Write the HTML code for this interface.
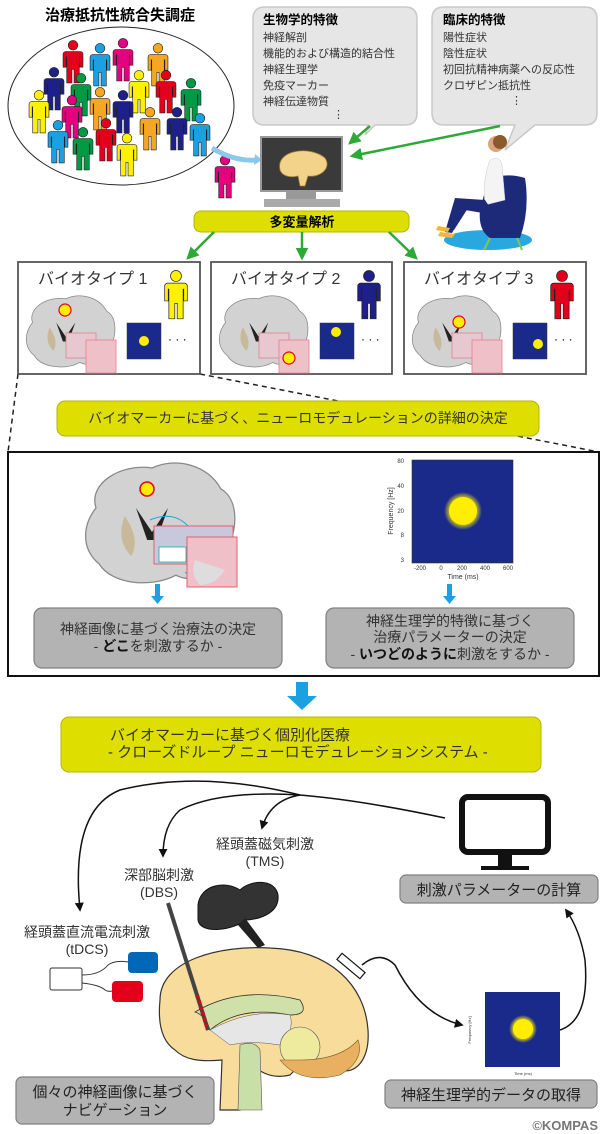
<!DOCTYPE html>
<html><head><meta charset="utf-8"><style>
html,body{margin:0;padding:0;background:#fff}
svg{display:block}
text{font-family:"Liberation Sans","Noto Sans CJK JP",sans-serif}
</style></head><body>
<svg width="601" height="1134" viewBox="0 0 601 1134" xmlns="http://www.w3.org/2000/svg">
<defs>
<symbol id="p" viewBox="0 0 20 42">
<circle cx="10" cy="5" r="4.6" stroke="#222" stroke-width="0.6"/>
<path d="M3 11h14a2.5 2.5 0 0 1 2.5 2.5V26h-3V16h-.5v25h-5V28h-2v13h-5V16H3.5v10h-3V13.5A2.5 2.5 0 0 1 3 11z" stroke="#222" stroke-width="0.6"/>
</symbol>
<marker id="ag" viewBox="0 0 10 10" refX="8" refY="5" markerWidth="5" markerHeight="5" orient="auto"><path d="M0 0L10 5L0 10z" fill="#2ea836"/></marker>
<marker id="ak" viewBox="0 0 10 10" refX="8" refY="5" markerWidth="6" markerHeight="6" orient="auto"><path d="M0 0L10 5L0 10z" fill="#111"/></marker>
<radialGradient id="yb"><stop offset="0.6" stop-color="#ffee00"/><stop offset="1" stop-color="#1a2a8a"/></radialGradient>
<g id="cor">
<path d="M10 30 C5 15 25 2 45 5 C60 -2 80 3 88 18 C100 25 98 45 92 55 C90 70 70 78 60 72 C45 80 20 78 12 65 C0 55 2 40 10 30z" fill="#d2d2d2" stroke="#888" stroke-width="0.8"/>
<path d="M35 30 L45 45 L55 30 L48 50 L42 50z" fill="#222"/>
<path d="M28 35 q-6 15 4 25 q6-10 -4-25z" fill="#c8b99a"/>
</g>
<g id="hm">
<rect width="34" height="36" fill="#1a2a8a" stroke="#333" stroke-width="0.5"/>
</g>
</defs>

<text x="120" y="20" font-size="15" font-weight="bold" text-anchor="middle">治療抵抗性統合失調症</text>
<ellipse cx="121" cy="106" rx="113" ry="79" fill="#fff" stroke="#222" stroke-width="1"/>
<g>
<use href="#p" x="62" y="40" width="22" height="44" fill="#e3001b"/>
<use href="#p" x="89" y="43" width="22" height="44" fill="#1ba1e2"/>
<use href="#p" x="112" y="38" width="22" height="44" fill="#e4007f"/>
<use href="#p" x="147" y="43" width="22" height="44" fill="#f5a623"/>
<use href="#p" x="43" y="67" width="22" height="44" fill="#1d2088"/>
<use href="#p" x="70" y="73" width="22" height="44" fill="#009944"/>
<use href="#p" x="128" y="70" width="22" height="44" fill="#fff100"/>
<use href="#p" x="155" y="70" width="22" height="44" fill="#e3001b"/>
<use href="#p" x="180" y="78" width="22" height="44" fill="#009944"/>
<use href="#p" x="28" y="90" width="22" height="44" fill="#fff100"/>
<use href="#p" x="61" y="95" width="22" height="44" fill="#e4007f"/>
<use href="#p" x="89" y="87" width="22" height="44" fill="#f5a623"/>
<use href="#p" x="112" y="90" width="22" height="44" fill="#1d2088"/>
<use href="#p" x="139" y="107" width="22" height="44" fill="#f5a623"/>
<use href="#p" x="166" y="107" width="22" height="44" fill="#1d2088"/>
<use href="#p" x="189" y="113" width="22" height="44" fill="#1ba1e2"/>
<use href="#p" x="47" y="120" width="22" height="44" fill="#1ba1e2"/>
<use href="#p" x="72" y="127" width="22" height="44" fill="#009944"/>
<use href="#p" x="95" y="118" width="22" height="44" fill="#e3001b"/>
<use href="#p" x="116" y="133" width="22" height="44" fill="#fff100"/>
</g>
<use href="#p" x="214" y="155" width="22" height="44" fill="#e4007f"/>
<path d="M212 148 Q235 162 258 160" stroke="#8cc8ec" stroke-width="5" fill="none"/>
<path d="M255 154 L262 160 L254 165z" fill="#8cc8ec"/>

<path d="M265 7 H405 Q417 7 417 19 V113 Q417 125 405 125 H375 L365 135 L368 125 H265 Q253 125 253 113 V19 Q253 7 265 7z" fill="#e6e6e6" stroke="#c8c8c8" stroke-width="1.5"/>
<text x="263" y="24" font-size="12.5" font-weight="bold">生物学的特徴</text>
<g font-size="11" fill="#333"><text x="263" y="41">神経解剖</text><text x="263" y="57">機能的および構造的結合性</text><text x="263" y="73">神経生理学</text><text x="263" y="89">免疫マーカー</text><text x="263" y="105">神経伝達物質</text><text x="333" y="118">⋮</text></g>
<path d="M444 7 H585 Q597 7 597 19 V113 Q597 125 585 125 H535 L505 150 L515 125 H444 Q432 125 432 113 V19 Q432 7 444 7z" fill="#e6e6e6" stroke="#c8c8c8" stroke-width="1.5"/>
<text x="443" y="24" font-size="12.5" font-weight="bold">臨床的特徴</text>
<g font-size="11" fill="#333"><text x="443" y="41">陽性症状</text><text x="443" y="57">陰性症状</text><text x="443" y="73">初回抗精神病薬への反応性</text><text x="443" y="89">クロザピン抵抗性</text><text x="511" y="104">⋮</text></g>

<rect x="261" y="137" width="81" height="54" fill="#3a3a3a" stroke="#999" stroke-width="2"/>
<path d="M280 170 C275 150 310 145 325 158 C332 168 320 178 308 176 L305 186 L300 186 L298 176 C290 178 282 176 280 170z" fill="#f3d38a" stroke="#a07b3a" stroke-width="0.8"/>
<rect x="286" y="191" width="30" height="8" fill="#999"/>
<rect x="264" y="199" width="76" height="8" fill="#aaa"/>
<line x1="370" y1="126" x2="350" y2="143" stroke="#2ea836" stroke-width="2.5" marker-end="url(#ag)"/>
<line x1="500" y1="126" x2="352" y2="156" stroke="#2ea836" stroke-width="2.5" marker-end="url(#ag)"/>

<ellipse cx="488" cy="240" rx="44" ry="10" fill="#29a8e0"/>
<path d="M488 180 Q505 172 525 178 Q530 210 520 238 H490 Q478 230 480 210z" fill="#1d2a7a"/>
<line x1="490" y1="238" x2="484" y2="250" stroke="#8bc34a" stroke-width="2"/>
<line x1="517" y1="238" x2="522" y2="250" stroke="#8bc34a" stroke-width="2"/>
<path d="M490 160 Q500 155 502 165 L505 200 L485 205 Q482 180 490 160z" fill="#f4f4f4" stroke="#ccc" stroke-width="0.5"/>
<path d="M485 200 L455 198 L445 232 L452 233 L465 210 L495 215z" fill="#1d2a7a"/>
<path d="M460 200 L448 228 L454 230 L470 205z" fill="#1d2a7a"/>
<circle cx="496" cy="144" r="8" fill="#d9a77a"/>
<circle cx="500" cy="142" r="7" fill="#8b5a2b"/>
<path d="M440 232 L455 234 L452 238 L438 236z" fill="#f2b632"/>
<path d="M438 226 L450 228 L448 232 L436 230z" fill="#f2b632"/>

<rect x="194" y="211" width="215" height="21" rx="7" fill="#dedf00" stroke="#b4b400" stroke-width="1"/>
<text x="302" y="226.5" font-size="13" font-weight="bold" text-anchor="middle">多変量解析</text>
<line x1="214" y1="232" x2="188" y2="258" stroke="#2ea836" stroke-width="2.5" marker-end="url(#ag)"/>
<line x1="302" y1="232" x2="302" y2="258" stroke="#2ea836" stroke-width="2.5" marker-end="url(#ag)"/>
<line x1="389" y1="232" x2="416" y2="258" stroke="#2ea836" stroke-width="2.5" marker-end="url(#ag)"/>

<path d="M18 374 L8 452" stroke="#222" stroke-width="1.5" stroke-dasharray="5 4" fill="none"/>
<path d="M200 374 L599 452" stroke="#222" stroke-width="1.5" stroke-dasharray="5 4" fill="none"/>

<g>
<rect x="18" y="262" width="182" height="112" fill="#fff" stroke="#555" stroke-width="1.8"/>
<text x="38" y="284" font-size="16" fill="#333">バイオタイプ 1</text>
<use href="#p" x="164" y="270" width="24" height="50" fill="#fff100"/>
<use href="#cor" transform="translate(23,294) scale(0.95)"/>
<circle cx="65" cy="310" r="6" fill="#ffee00" stroke="#e3001b" stroke-width="1.2"/>
<rect x="66" y="333" width="30" height="25" fill="#e8c8d0" stroke="#e08090" stroke-width="0.8"/>
<rect x="86" y="340" width="30" height="33" fill="#f0c0c8" stroke="#e08090" stroke-width="0.8"/>
<use href="#hm" x="127" y="323"/>
<circle cx="144" cy="341" r="5" fill="#ffee00"/>
<text x="168" y="343" font-size="12">· · ·</text>
</g>
<g>
<rect x="211" y="262" width="181" height="112" fill="#fff" stroke="#555" stroke-width="1.8"/>
<text x="231" y="284" font-size="16" fill="#333">バイオタイプ 2</text>
<use href="#p" x="357" y="270" width="24" height="50" fill="#1d2088"/>
<use href="#cor" transform="translate(216,294) scale(0.95)"/>
<rect x="259" y="333" width="30" height="25" fill="#e8c8d0" stroke="#e08090" stroke-width="0.8"/>
<rect x="279" y="340" width="30" height="33" fill="#f0c0c8" stroke="#e08090" stroke-width="0.8"/>
<circle cx="289" cy="358" r="6" fill="#ffee00" stroke="#e3001b" stroke-width="1.2"/>
<use href="#hm" x="320" y="323"/>
<circle cx="336" cy="332" r="5" fill="#ffee00"/>
<text x="361" y="343" font-size="12">· · ·</text>
</g>
<g>
<rect x="404" y="262" width="182" height="112" fill="#fff" stroke="#555" stroke-width="1.8"/>
<text x="424" y="284" font-size="16" fill="#333">バイオタイプ 3</text>
<use href="#p" x="550" y="270" width="24" height="50" fill="#e3001b"/>
<use href="#cor" transform="translate(409,294) scale(0.95)"/>
<circle cx="459" cy="322" r="6" fill="#ffee00" stroke="#e3001b" stroke-width="1.2"/>
<rect x="452" y="333" width="30" height="25" fill="#e8c8d0" stroke="#e08090" stroke-width="0.8"/>
<rect x="472" y="340" width="30" height="33" fill="#f0c0c8" stroke="#e08090" stroke-width="0.8"/>
<use href="#hm" x="513" y="323"/>
<circle cx="538" cy="344" r="5" fill="#ffee00"/>
<text x="554" y="343" font-size="12">· · ·</text>
</g>

<rect x="57" y="401" width="482" height="35" rx="8" fill="#dedf00" stroke="#b4b400" stroke-width="1"/>
<text x="298" y="423" font-size="14" text-anchor="middle" fill="#333">バイオマーカーに基づく、ニューロモデュレーションの詳細の決定</text>

<rect x="8" y="452" width="591" height="224" fill="#fff" stroke="#111" stroke-width="2"/>
<use href="#cor" transform="translate(80,460) scale(1.6)"/>
<circle cx="147" cy="489" r="7" fill="#ffee00" stroke="#e3001b" stroke-width="1.5"/>
<path d="M150 520 Q185 505 202 550 Q200 570 185 573" stroke="#1ba1e2" stroke-width="1" fill="none"/>
<rect x="154" y="526" width="79" height="38" fill="#c8c8dc" stroke="#e06070" stroke-width="1"/>
<rect x="187" y="537" width="50" height="50" fill="#f0c0c8" stroke="#e06070" stroke-width="1"/>
<path d="M195 560 Q190 575 200 585 Q215 585 225 570" fill="#ddd"/>
<rect x="159" y="547" width="27" height="15" fill="#fff" stroke="#1aa" stroke-width="0.8"/>
<rect x="412" y="460" width="101" height="103" fill="#1a2a8a" stroke="#333" stroke-width="0.6"/>
<circle cx="463" cy="511" r="19" fill="url(#yb)"/>
<circle cx="463" cy="511" r="14" fill="#ffee00"/>
<g font-size="6" fill="#333" text-anchor="end"><text x="404" y="463">80</text><text x="404" y="488">40</text><text x="404" y="513">20</text><text x="404" y="537">8</text><text x="404" y="562">3</text></g>
<g font-size="6" fill="#333" text-anchor="middle"><text x="420" y="570">-200</text><text x="441" y="570">0</text><text x="462" y="570">200</text><text x="485" y="570">400</text><text x="508" y="570">600</text></g>
<text x="463" y="579" font-size="7" text-anchor="middle" fill="#333">Time (ms)</text>
<text x="0" y="0" font-size="7" fill="#333" text-anchor="middle" transform="translate(393,511) rotate(-90)">Frequency [Hz]</text>
<path d="M155 584h5v12h4l-6.5 8-6.5-8h4z" fill="#1ba1e2"/>
<path d="M447 584h5v12h4l-6.5 8-6.5-8h4z" fill="#1ba1e2"/>
<rect x="34" y="608" width="248" height="60" rx="8" fill="#b3b3b3" stroke="#808080" stroke-width="1.2"/>
<text x="158" y="634" font-size="14" text-anchor="middle" fill="#333">神経画像に基づく治療法の決定</text>
<text x="158" y="651" font-size="14" text-anchor="middle" fill="#333">- <tspan font-weight="bold" fill="#111">どこ</tspan>を刺激するか -</text>
<rect x="326" y="608" width="248" height="60" rx="8" fill="#b3b3b3" stroke="#808080" stroke-width="1.2"/>
<text x="450" y="626" font-size="14" text-anchor="middle" fill="#333">神経生理学的特徴に基づく</text>
<text x="450" y="642" font-size="14" text-anchor="middle" fill="#333">治療パラメーターの決定</text>
<text x="450" y="659" font-size="14" text-anchor="middle" fill="#333">- <tspan font-weight="bold" fill="#111">いつどのように</tspan>刺激をするか -</text>

<path d="M296 682h12v14h9l-15 14-15-14h9z" fill="#1ba1e2"/>

<rect x="61" y="717" width="480" height="55" rx="8" fill="#dedf00" stroke="#b4b400" stroke-width="1"/>
<text x="110" y="740" font-size="15" fill="#333">バイオマーカーに基づく個別化医療</text>
<text x="108" y="757" font-size="15" fill="#333">- クローズドループ ニューロモデュレーションシステム -</text>

<path d="M445 818 Q360 800 300 795 Q200 770 120 790 Q70 810 80 910" stroke="#111" stroke-width="1.5" fill="none" marker-end="url(#ak)"/>
<path d="M300 795 Q220 790 180 810 Q163 825 163 856" stroke="#111" stroke-width="1.5" fill="none" marker-end="url(#ak)"/>
<path d="M300 795 Q270 800 262 828" stroke="#111" stroke-width="1.5" fill="none" marker-end="url(#ak)"/>
<rect x="462" y="797" width="86" height="55" rx="6" fill="#fff" stroke="#111" stroke-width="6"/>
<rect x="498" y="852" width="14" height="14" fill="#111"/>
<rect x="481" y="866" width="48" height="4" fill="#111"/>
<rect x="400" y="875" width="198" height="28" rx="6" fill="#b3b3b3" stroke="#808080" stroke-width="1.2"/>
<text x="499" y="895" font-size="15" text-anchor="middle" fill="#222">刺激パラメーターの計算</text>
<text x="265" y="849" font-size="14" text-anchor="middle" fill="#333">経頭蓋磁気刺激</text>
<text x="265" y="866" font-size="14" text-anchor="middle" fill="#333">(TMS)</text>
<text x="159" y="880" font-size="14" text-anchor="middle" fill="#333">深部脳刺激</text>
<text x="159" y="897" font-size="14" text-anchor="middle" fill="#333">(DBS)</text>
<text x="87" y="937" font-size="14" text-anchor="middle" fill="#333">経頭蓋直流電流刺激</text>
<text x="87" y="954" font-size="14" text-anchor="middle" fill="#333">(tDCS)</text>
<rect x="50" y="968" width="32" height="22" rx="2" fill="#fff" stroke="#333" stroke-width="1"/>
<path d="M82 975 Q100 975 108 965 Q115 960 128 962" stroke="#333" fill="none"/>
<path d="M82 983 Q100 985 105 990 Q108 992 112 991" stroke="#333" fill="none"/>
<rect x="128" y="952" width="30" height="21" rx="4" fill="#0068b7"/>
<rect x="112" y="981" width="31" height="21" rx="4" fill="#e3001b"/>
<path d="M160 1000 C160 960 220 945 270 948 C330 950 365 985 368 1030 C370 1060 355 1075 340 1070 L305 1060 L290 1075 C270 1080 255 1070 250 1060 L245 1100 L240 1110 L220 1110 L222 1060 C200 1062 185 1060 175 1050 C160 1040 158 1020 160 1000z" fill="#f8dc9c" stroke="#333" stroke-width="1.2"/>
<path d="M195 1012 Q240 985 300 1000 Q310 1015 290 1015 Q240 1005 210 1030 Q205 1015 195 1012z" fill="#cfe0a8" stroke="#333" stroke-width="0.8"/>
<path d="M210 1030 Q250 1008 290 1015 Q295 1030 280 1045 Q250 1040 230 1045z" fill="#e6e6e6" stroke="#555" stroke-width="0.5"/>
<path d="M240 1045 Q255 1040 260 1050 L262 1110 L238 1110z" fill="#c9dfa8" stroke="#555" stroke-width="0.6"/>
<circle cx="300" cy="1047" r="20" fill="#eeea9e" stroke="#555" stroke-width="0.6"/>
<path d="M280 1060 Q300 1085 340 1075 Q365 1060 358 1040 Q340 1060 300 1060z" fill="#e8b060" stroke="#7a5a20" stroke-width="0.6"/>
<line x1="168" y1="903" x2="208" y2="1030" stroke="#444" stroke-width="4"/>
<line x1="197" y1="995" x2="208" y2="1030" stroke="#e3001b" stroke-width="4" stroke-dasharray="3 3"/>
<path d="M198 905 C200 885 225 880 240 890 C250 880 275 878 278 895 C280 915 255 920 245 920 C235 930 200 935 198 920z" fill="#333" stroke="#111"/>
<path d="M245 918 L265 945 L258 948 L238 925z" fill="#222"/>
<rect x="336" y="962" width="30" height="8" fill="#fff" stroke="#111" stroke-width="1.2" transform="rotate(40 351 966)"/>
<path d="M362 965 Q380 950 395 965 Q420 1015 462 1025" stroke="#111" stroke-width="1.5" fill="none" marker-end="url(#ak)"/>
<rect x="485" y="992" width="75" height="75" fill="#1a2a8a"/>
<circle cx="523" cy="1029" r="14" fill="url(#yb)"/>
<circle cx="523" cy="1029" r="10" fill="#ffee00"/>
<text x="0" y="0" font-size="4" text-anchor="middle" fill="#333" transform="translate(471,1030) rotate(-90)">Frequency [Hz]</text>
<text x="523" y="1075" font-size="4" text-anchor="middle" fill="#333">Time (ms)</text>
<path d="M560 1030 Q590 1020 585 960 Q580 930 566 910" stroke="#111" stroke-width="1.5" fill="none" marker-end="url(#ak)"/>
<rect x="385" y="1080" width="212" height="28" rx="6" fill="#b3b3b3" stroke="#808080" stroke-width="1.2"/>
<text x="491" y="1100" font-size="15" text-anchor="middle" fill="#222">神経生理学的データの取得</text>
<rect x="16" y="1077" width="198" height="47" rx="6" fill="#b3b3b3" stroke="#808080" stroke-width="1.2"/>
<text x="115" y="1097" font-size="15" text-anchor="middle" fill="#222">個々の神経画像に基づく</text>
<text x="115" y="1115" font-size="15" text-anchor="middle" fill="#222">ナビゲーション</text>
<text x="598" y="1130" font-size="13" font-weight="bold" text-anchor="end" fill="#777">©KOMPAS</text>
</svg>
</body></html>
